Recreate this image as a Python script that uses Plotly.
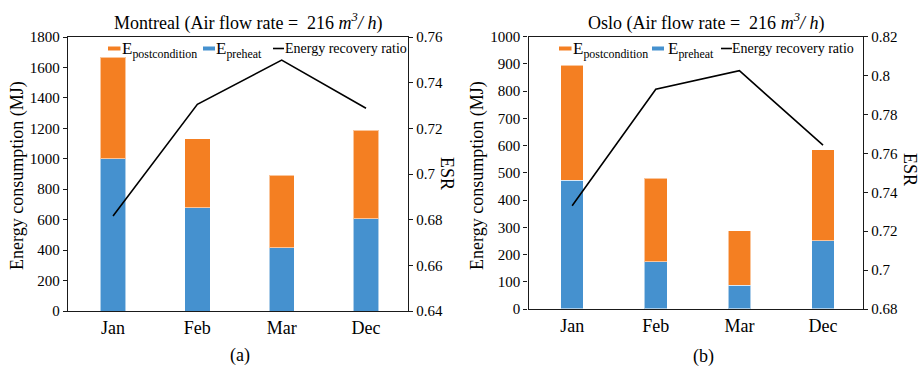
import plotly.graph_objects as go

# ---- data ----
months = ["Jan", "Feb", "Mar", "Dec"]

montreal_preheat = [1000, 677, 414, 606]
montreal_total = [1667, 1130, 891, 1187]
montreal_post = [t - p for t, p in zip(montreal_total, montreal_preheat)]
montreal_esr = [0.6816, 0.7305, 0.7499, 0.7288]

oslo_preheat = [472, 174, 88, 250]
oslo_total = [896, 480, 287, 585]
oslo_post = [t - p for t, p in zip(oslo_total, oslo_preheat)]
oslo_esr = [0.7331, 0.7930, 0.8025, 0.7643]

# ---- styling ----
W, H = 921, 369
FONT = "Liberation Serif"
ORANGE = "#F47F22"
BLUE = "#4591CF"
AX = "#1a1a1a"


def px(x):
    return x / W


def py(y):
    return 1 - y / H


fig = go.Figure()

panels = [
    dict(pre=montreal_preheat, post=montreal_post, esr=montreal_esr,
         x="x", y="y", y2="y2", width=0.30),
    dict(pre=oslo_preheat, post=oslo_post, esr=oslo_esr,
         x="x2", y="y3", y2="y4", width=0.27),
]

for p in panels:
    fig.add_trace(go.Bar(x=months, y=p["pre"], xaxis=p["x"], yaxis=p["y"],
                         marker=dict(color=BLUE, line=dict(color="rgba(255,255,255,0.55)", width=1)),
                         width=p["width"], showlegend=False))
    fig.add_trace(go.Bar(x=months, y=p["post"], xaxis=p["x"], yaxis=p["y"],
                         marker=dict(color=ORANGE, line=dict(color="rgba(255,255,255,0.55)", width=1)),
                         width=p["width"], showlegend=False))
    fig.add_trace(go.Scatter(x=months, y=p["esr"], xaxis=p["x"], yaxis=p["y2"],
                             mode="lines", line=dict(color="black", width=1.6),
                             showlegend=False))

tickfont = dict(family=FONT, size=15, color="black")
catfont = dict(family=FONT, size=18, color="black")

common_y = dict(showline=True, linecolor=AX, linewidth=1.3, ticks="outside",
                ticklen=4, tickwidth=1.2, tickcolor=AX, showgrid=False,
                zeroline=False, tickfont=tickfont, automargin=False)
common_x = dict(showline=True, linecolor=AX, linewidth=1.3, mirror=True,
                ticks="", showgrid=False, tickfont=catfont, automargin=False)

dom_xa = [px(68), px(408)]
dom_ya = [py(311), py(37)]
dom_xb = [px(528.5), px(863)]
dom_yb = [py(309), py(36.7)]

fig.update_layout(
    template="none",
    width=W, height=H,
    margin=dict(l=0, r=0, t=0, b=0, autoexpand=False),
    paper_bgcolor="white", plot_bgcolor="white",
    barmode="stack",
    showlegend=False,
    font=dict(family=FONT, color="black"),
    xaxis=dict(domain=dom_xa, anchor="y", range=[-0.534, 3.498], **common_x),
    yaxis=dict(domain=dom_ya, anchor="x", range=[0, 1800], dtick=200, **common_y),
    yaxis2=dict(overlaying="y", anchor="x", side="right", range=[0.64, 0.76],
                dtick=0.02, **common_y),
    xaxis2=dict(domain=dom_xb, anchor="y3", range=[-0.522, 3.478], **common_x),
    yaxis3=dict(domain=dom_yb, anchor="x2", range=[0, 1000], dtick=100, **common_y),
    yaxis4=dict(overlaying="y3", anchor="x2", side="right", range=[0.68, 0.82],
                dtick=0.02, **common_y),
)

ann = []
shapes = []


def note(x, y, text, size, xanchor="center", yanchor="middle", angle=0):
    ann.append(dict(x=px(x), y=py(y), text=text, textangle=angle,
                    xanchor=xanchor, yanchor=yanchor,
                    font=dict(family=FONT, size=size, color="black"),
                    showarrow=False, xref="paper", yref="paper"))


# titles
note(248, 22, "Montreal (Air flow rate = &nbsp;216 <i>m<sup>3</sup>/ h</i>)", 18)
note(706, 22, "Oslo (Air flow rate = &nbsp;216 <i>m<sup>3</sup>/ h</i>)", 18)

# axis titles
for xl in (18, 478):
    note(xl, 176, "Energy consumption (MJ)", 18, angle=-90)
for xr, yc in ((447, 173), (910, 169)):
    note(xr, yc, "ESR", 18, angle=90)

# panel labels
note(240, 355, "(a)", 18)
note(703, 356, "(b)", 18)


# in-plot legends
def legend(x0, yc, o_text_x, b_rect, b_text_x, l_seg, l_text_x):
    shapes.append(dict(type="rect", xref="paper", yref="paper",
                       x0=px(x0), x1=px(x0 + 12.5), y0=py(yc + 2), y1=py(yc - 2),
                       fillcolor=ORANGE, line=dict(width=0)))
    note(o_text_x, yc + 1, "E<sub>postcondition</sub>", 17, xanchor="left")
    shapes.append(dict(type="rect", xref="paper", yref="paper",
                       x0=px(b_rect), x1=px(b_rect + 12), y0=py(yc + 2), y1=py(yc - 2),
                       fillcolor=BLUE, line=dict(width=0)))
    note(b_text_x, yc + 1, "E<sub>preheat</sub>", 17, xanchor="left")
    shapes.append(dict(type="line", xref="paper", yref="paper",
                       x0=px(l_seg), x1=px(l_seg + 11), y0=py(yc), y1=py(yc),
                       line=dict(color="black", width=1.6)))
    note(l_text_x, yc, "Energy recovery ratio", 14, xanchor="left")


legend(108, 48.5, 120, 203, 214, 273, 283)
legend(559, 48.5, 571, 652, 666, 721, 730)

fig.update_layout(annotations=ann, shapes=shapes)

fig.write_html("out.html")
